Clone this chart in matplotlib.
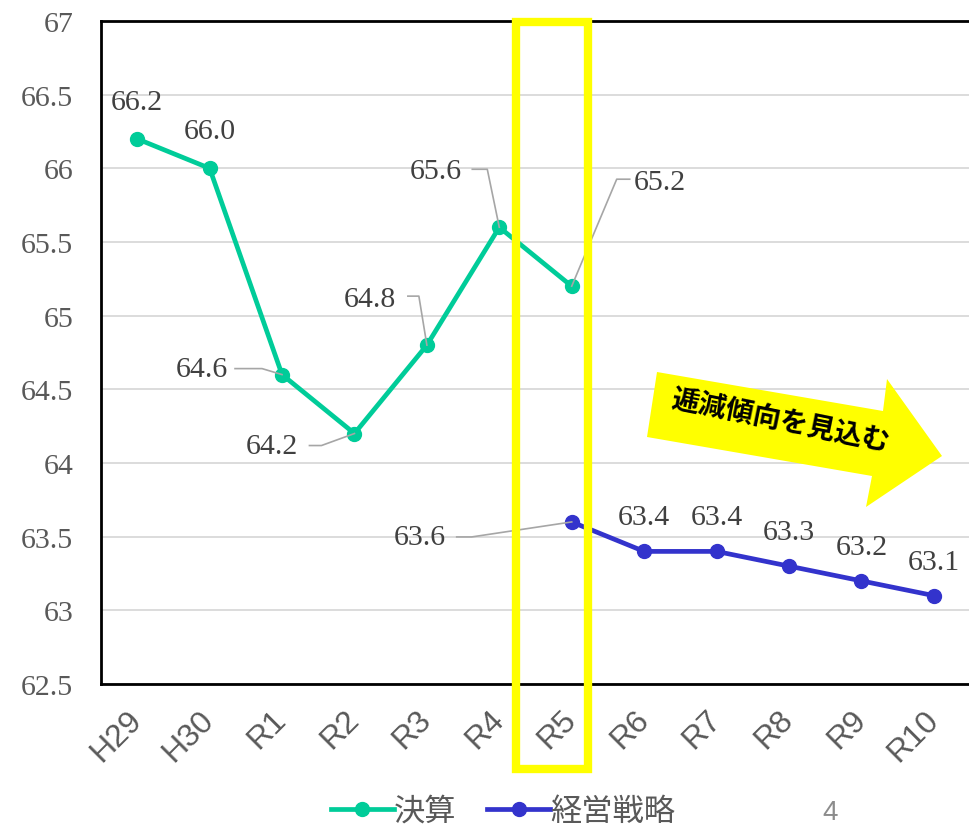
import matplotlib
matplotlib.use("Agg")
import matplotlib.pyplot as plt
from matplotlib.patches import Rectangle, Polygon
from matplotlib.transforms import IdentityTransform

years = ["H29", "H30", "R1", "R2", "R3", "R4", "R5", "R6", "R7", "R8", "R9", "R10"]
actual = [66.2, 66.0, 64.6, 64.2, 64.8, 65.6, 65.2]          # 決算 H29..R5
plan = [63.6, 63.4, 63.4, 63.3, 63.2, 63.1]                  # 経営戦略 R5..R10
plan_start = 6

GREEN, BLUE = "#00CC99", "#3333CC"
GRAY_TXT, LEADER = "#404040", "#A6A6A6"
SERIF = "Liberation Serif"
JP = ["Noto Sans CJK JP", "DejaVu Sans"]

# label offsets in pixels (dx, dy) from the point, plus leader line vertices
label_pos = {
    ("a", 0): ((0, 37), None),
    ("a", 1): ((0, 37), None),
    ("a", 2): ((-80, 6), [(-47, 6), (-20, 6), (0, 0)]),
    ("a", 3): ((-83, -12), [(-45, -12), (-33, -12), (0, 0)]),
    ("a", 4): ((-57, 46), [(-19, 49), (-8, 49), (0, 0)]),
    ("a", 5): ((-63, 56), [(-27, 58), (-12, 58), (0, 0)]),
    ("a", 6): ((88, 104), [(0, 0), (45, 107), (58, 107)]),
    ("p", 0): ((-152, -15), [(-115, -15), (-100, -15), (0, 0)]),
}

fig = plt.figure(figsize=(9.69, 8.29), dpi=100)
ax = fig.add_axes([101 / 969, 1 - 685 / 829, 869 / 969, 663 / 829])

xa = list(range(len(actual)))
xp = list(range(plan_start, plan_start + len(plan)))
ax.plot(xa, actual, color=GREEN, lw=3.4, marker="o", ms=10, label="決算", zorder=4)
ax.plot(xp, plan, color=BLUE, lw=3.4, marker="o", ms=10, label="経営戦略", zorder=4)

ax.set_xlim(-0.5, len(years) - 0.5)
ax.set_ylim(62.5, 67)
ax.set_yticks([62.5 + 0.5 * i for i in range(10)])
ax.set_yticklabels([f"{62.5 + 0.5 * i:g}" for i in range(10)],
                   fontfamily=SERIF, fontsize=21.5, color="#595959")
ax.set_xticks(range(len(years)))
ax.set_xticklabels(years, rotation=45, ha="right", va="center", rotation_mode="anchor",
                   fontfamily="Liberation Sans", fontsize=23, color="#595959")
ax.tick_params(axis="both", length=0)
ax.tick_params(axis="y", pad=20)
ax.tick_params(axis="x", pad=22)
ax.grid(axis="y", color="#D9D9D9", lw=1.3)
ax.set_axisbelow(True)
for s in ("left", "bottom", "top"):
    ax.spines[s].set_color("black")
    ax.spines[s].set_linewidth(2)
ax.spines["right"].set_visible(False)

fig.canvas.draw()


def put_labels(key, xs, ys):
    for i, (x, y) in enumerate(zip(xs, ys)):
        (dx, dy), leader = label_pos.get((key, i), ((0, 34), None))
        px, py = ax.transData.transform((x, y))
        fig.text(px + dx, py + dy, f"{y:.1f}", transform=IdentityTransform(),
                 ha="center", va="center", fontfamily=SERIF, fontsize=21.5,
                 color=GRAY_TXT, zorder=6)
        if leader:
            fig.add_artist(plt.Line2D([px + a for a, b in leader], [py + b for a, b in leader],
                                      transform=IdentityTransform(), color=LEADER, lw=1.2,
                                      zorder=3))


put_labels("a", xa, actual)
put_labels("p", xp, plan)

# highlight box around R5
fig.add_artist(Rectangle((516 / 969, 1 - 770 / 829), 72 / 969, 747 / 829,
                         transform=fig.transFigure, fill=False, ec="#FFFF00", lw=6,
                         zorder=5))

# trend arrow
arrow_px = [(657, 373), (883, 412), (887, 380), (942, 457), (866, 508), (872, 477), (647, 438)]
fig.add_artist(Polygon([(x / 969, 1 - y / 829) for x, y in arrow_px], closed=True,
                       transform=fig.transFigure, fc="#FFFF00", ec="none", zorder=5))
fig.text(780 / 969, 1 - 422 / 829, "逓減傾向を見込む", rotation=-11.5, ha="center",
         va="center", fontfamily=JP, fontsize=20, fontweight="bold", color="black",
         zorder=6, rotation_mode="anchor")

leg = fig.legend(loc="center", bbox_to_anchor=(503 / 969, 1 - 812 / 829), ncol=2,
                 frameon=False, prop={"family": JP, "size": 22.5}, handlelength=2.0,
                 handletextpad=0.0, columnspacing=1.0, labelcolor="#595959")
fig.text(830 / 969, 1 - 813 / 829, "4", ha="center", va="center",
         fontfamily="Liberation Sans", fontsize=20, color="#8C8C8C")

fig.savefig("out.png", dpi=100)
